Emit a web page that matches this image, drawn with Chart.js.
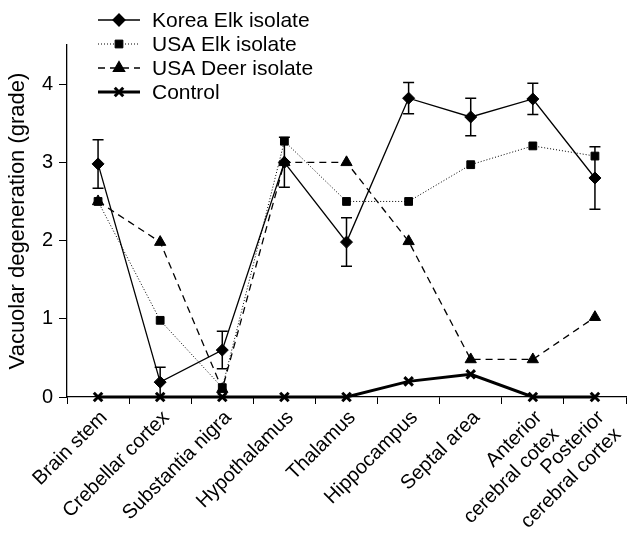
<!DOCTYPE html>
<html>
<head>
<meta charset="utf-8">
<script src="https://cdn.jsdelivr.net/npm/chart.js@4/dist/chart.umd.min.js"></script>
<style>
  html, body { margin: 0; padding: 0; background: #fff; }
  #wrap { width: 635px; height: 534px; }
</style>
</head>
<body>
<div id="wrap"><canvas id="vacChart" width="635" height="534"></canvas></div>
<script>
const regions = ['Brain stem', 'Crebellar cortex', 'Substantia nigra', 'Hypothalamus', 'Thalamus',
    'Hippocampus', 'Septal area', ['Anterior', 'cerebral cotex'], ['Posterior', 'cerebral cortex']];
const koreaElk = [2.98, 0.19, 0.60, 3.0, 1.98, 3.82, 3.58, 3.81, 2.80];
const koreaElkErr = [0.31, 0.19, 0.24, 0.32, 0.31, 0.20, 0.24, 0.20, 0.40];
const usaElk = [2.5, 0.98, 0.12, 3.27, 2.5, 2.5, 2.97, 3.21, 3.08];
const usaDeer = [2.5, 1.98, 0.10, 3.0, 3.0, 1.99, 0.48, 0.48, 1.02];
const control = [0, 0, 0, 0, 0, 0.2, 0.29, 0, 0];
const yTicks = [0, 1, 2, 3, 4];

const FONT = "'Liberation Sans', Arial, sans-serif";

const errorBars = {
    id: 'errorBars',
    afterDatasetsDraw(chart) {
        const ctx = chart.ctx;
        const xs = chart.scales.x, ys = chart.scales.y;
        ctx.save();
        ctx.strokeStyle = '#000';
        ctx.lineWidth = 1.5;
        koreaElk.forEach((v, i) => {
            const x = xs.getPixelForValue(i);
            const top = ys.getPixelForValue(v + koreaElkErr[i]);
            const bot = ys.getPixelForValue(v - koreaElkErr[i]);
            ctx.beginPath();
            ctx.moveTo(x, top); ctx.lineTo(x, bot);
            ctx.moveTo(x - 5.5, top); ctx.lineTo(x + 5.5, top);
            ctx.moveTo(x - 5.5, bot); ctx.lineTo(x + 5.5, bot);
            ctx.stroke();
        });
        ctx.restore();
    }
};

// legend drawn inside the plot, top-left
const insideLegend = {
    id: 'insideLegend',
    afterDraw(chart) {
        const ctx = chart.ctx;
        ctx.save();
        ctx.font = '21px ' + FONT;
        ctx.textBaseline = 'middle';
        ctx.fillStyle = '#000';
        chart.data.datasets.forEach((ds, i) => {
            const y = 20 + i * 24;
            ctx.strokeStyle = '#000';
            ctx.lineWidth = ds.borderWidth;
            ctx.setLineDash(ds.borderDash || []);
            ctx.beginPath();
            ctx.moveTo(98, y); ctx.lineTo(140, y);
            ctx.stroke();
            ctx.setLineDash([]);
            Chart.helpers.drawPoint(ctx, {
                pointStyle: ds.pointStyle, radius: ds.pointRadius, borderWidth: ds.pointBorderWidth || 1
            }, 119, y);
            ctx.fillText(ds.label, 152, y + 1);
        });
        ctx.restore();
    }
};

new Chart(document.getElementById('vacChart'), {
    type: 'line',
    data: {
        labels: regions,
        datasets: [
            { label: 'Korea Elk isolate', data: koreaElk, borderColor: '#000', backgroundColor: '#000',
              borderWidth: 1.3, pointStyle: 'rectRot', pointRadius: 6, pointBorderWidth: 1, clip: false },
            { label: 'USA Elk isolate', data: usaElk, borderColor: '#000', backgroundColor: '#000',
              borderWidth: 1, borderDash: [1, 2], pointStyle: 'rect', pointRadius: 5.5, pointBorderWidth: 1, clip: false },
            { label: 'USA Deer isolate', data: usaDeer, borderColor: '#000', backgroundColor: '#000',
              borderWidth: 1.3, borderDash: [7, 5], pointStyle: 'triangle', pointRadius: 6.5, pointBorderWidth: 1, clip: false },
            { label: 'Control', data: control, borderColor: '#000', backgroundColor: '#000',
              borderWidth: 3, pointStyle: 'crossRot', pointRadius: 6, pointBorderWidth: 3, clip: false }
        ]
    },
    options: {
        responsive: false,
        animation: false,
        devicePixelRatio: 1,
        layout: { padding: { top: 45, right: 3, left: 0, bottom: 0 } },
        elements: { line: { tension: 0 }, point: { hoverRadius: 6 } },
        plugins: { legend: { display: false }, tooltip: { enabled: false } },
        scales: {
            x: {
                offset: true,
                grid: { offset: true, drawOnChartArea: false, drawTicks: true, tickLength: 7, color: '#000', lineWidth: 1 },
                border: { display: true, color: '#000', width: 1.3 },
                ticks: { color: '#000', font: { family: FONT, size: 20 }, minRotation: 45, maxRotation: 45,
                         padding: 2, autoSkip: false, labelOffset: 6 },
                afterFit: s => { s.height = 137; }
            },
            y: {
                min: 0, max: 4.5,
                afterBuildTicks: s => { s.ticks = yTicks.map(v => ({ value: v })); },
                grid: { drawOnChartArea: false, drawTicks: true, tickLength: 8, color: '#000', lineWidth: 1 },
                border: { display: true, color: '#000', width: 1.3 },
                ticks: { color: '#000', font: { family: FONT, size: 20 }, padding: 6 },
                title: { display: true, text: 'Vacuolar degeneration (grade)', color: '#000',
                         font: { family: FONT, size: 22 }, padding: { top: 5, bottom: 4 } },
                afterFit: s => { s.width = 67; }
            }
        }
    },
    plugins: [errorBars, insideLegend]
});
</script>
</body>
</html>
